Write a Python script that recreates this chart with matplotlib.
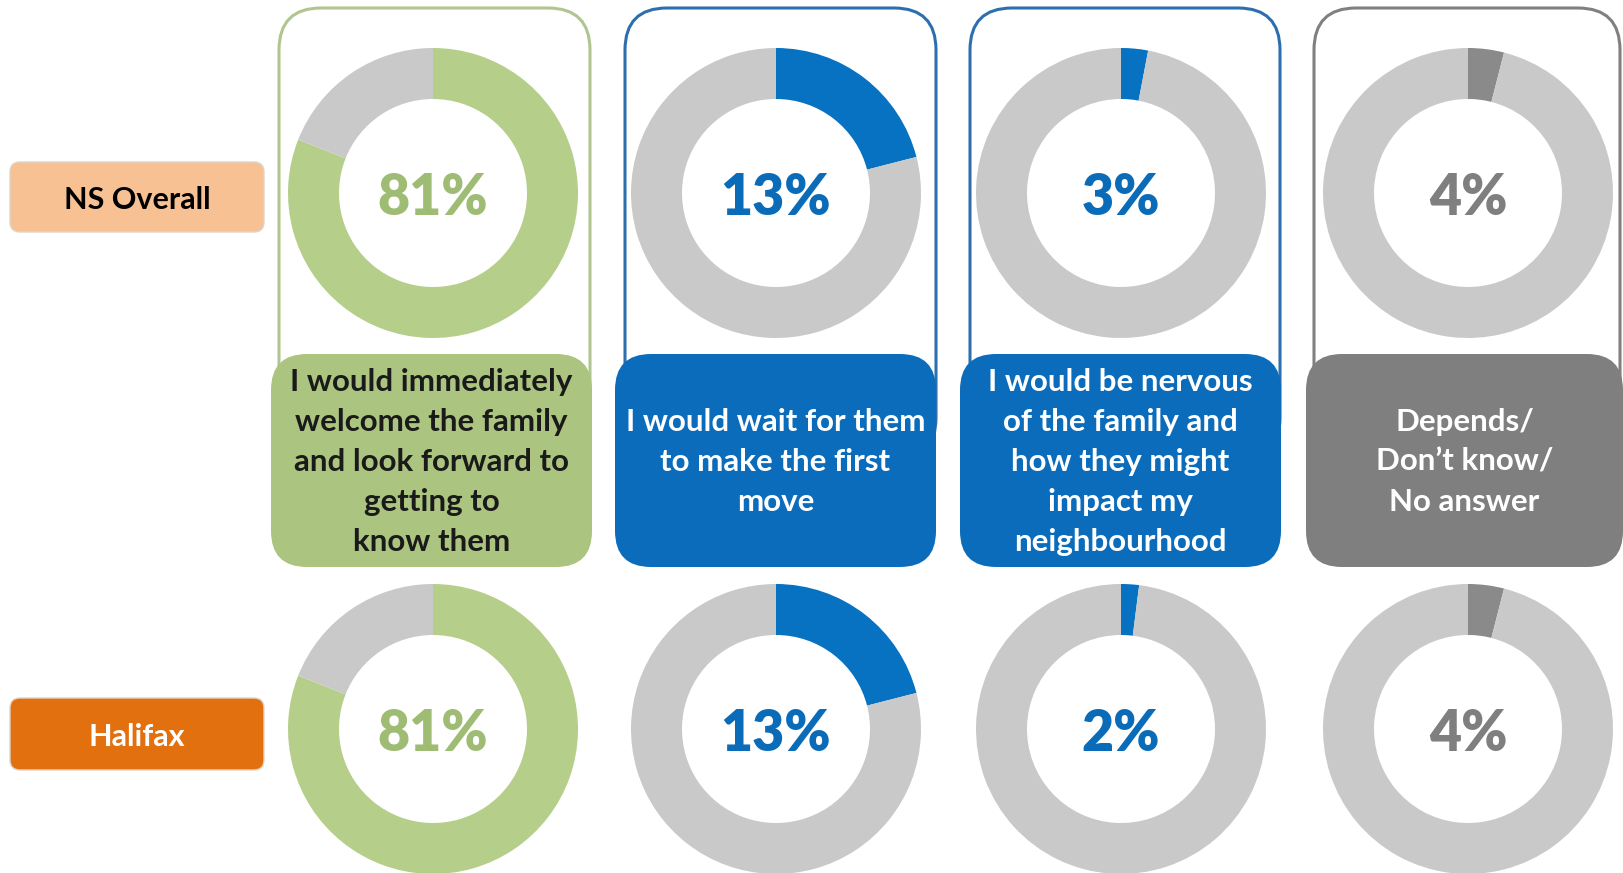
import matplotlib.pyplot as plt
from matplotlib.patches import FancyBboxPatch

plt.rcParams['font.family'] = ['Lato', 'DejaVu Sans']

W, H = 1623, 873

# data
groups = ['NS Overall', 'Halifax']
answers = ['I would immediately\nwelcome the family\nand look forward to\ngetting to\nknow them',
           'I would wait for them\nto make the first\nmove',
           'I would be nervous\nof the family and\nhow they might\nimpact my\nneighbourhood',
           'Depends/\nDon\u2019t know/\nNo answer']
ns_labels = [81, 13, 3, 4]
hx_labels = [81, 13, 2, 4]
# arc shares as drawn in the picture (the blue arc is drawn larger than its label)
ns_arcs = [81, 21, 3, 4]
hx_arcs = [81, 21, 2, 4]

# styling
main_col = ['#b5cf8b', '#0872c2', '#0872c2', '#8a8a8a']
text_col = ['#9fbc74', '#0a6cb8', '#0a6cb8', '#7f7f7f']
box_col = ['#abc47f', '#0a6cbb', '#0a6cbb', '#7f7f7f']
edge_col = ['#b0c590', '#2d6fae', '#2d6fae', '#808080']
lab_txt = ['#1a1a1a', 'white', 'white', 'white']
ring_bg = '#c9c9c9'
group_col = ['#f8c193', '#e2700f']
group_txt = ['black', 'white']

col_x = [433, 776, 1121, 1468]
row_y = [193, 729]
r_out, r_in = 145, 94

fig = plt.figure(figsize=(W / 100, H / 100), dpi=100)
ax = fig.add_axes([0, 0, 1, 1])

def yy(y):
    return H - y

# outline frames around top donuts
frames = [(279, 590), (625, 936), (970, 1280), (1314, 1620)]
for (x0, x1), ec in zip(frames, edge_col):
    ax.add_patch(FancyBboxPatch((x0, yy(460)), x1 - x0, 452,
                                boxstyle='round,pad=0,rounding_size=42',
                                fc='none', ec=ec, lw=2.2, zorder=1))

# label boxes
lboxes = [(271, 592), (615, 936), (960, 1281), (1306, 1623)]
for (x0, x1), fc, tc, txt in zip(lboxes, box_col, lab_txt, answers):
    ax.add_patch(FancyBboxPatch((x0, yy(567)), x1 - x0, 213,
                                boxstyle='round,pad=0,rounding_size=36',
                                fc=fc, ec='none', zorder=2))
    ax.text((x0 + x1) / 2, yy(462), txt, ha='center', va='center',
            fontsize=22.5, fontweight='bold', color=tc, linespacing=1.52, zorder=3)

# donuts
for row, (arcs, labels) in enumerate([(ns_arcs, ns_labels), (hx_arcs, hx_labels)]):
    for i in range(4):
        ax.pie([arcs[i], 100 - arcs[i]], colors=[main_col[i], ring_bg],
               startangle=90, counterclock=False, radius=r_out,
               center=(col_x[i], yy(row_y[row])), frame=True,
               wedgeprops=dict(width=r_out - r_in, linewidth=0))
        ax.text(col_x[i], yy(row_y[row] + 5), f'{labels[i]}%', ha='center', va='center',
                fontsize=40, fontweight='heavy', color=text_col[i], zorder=4)

# group label boxes
for (y0, y1), fc, tc, g in zip([(162, 232), (698, 770)], group_col, group_txt, groups):
    ax.add_patch(FancyBboxPatch((10, yy(y1)), 254, y1 - y0,
                                boxstyle='round,pad=0,rounding_size=10',
                                fc=fc, ec='#e0d4c8', lw=1, zorder=2))
    ax.text(137, yy((y0 + y1) / 2 + 3), g, ha='center', va='center',
            fontsize=22, fontweight='bold', color=tc, zorder=3)

ax.set_xlim(0, W)
ax.set_ylim(0, H)
ax.set_aspect('equal')
ax.axis('off')

fig.savefig('out.png', dpi=100)
